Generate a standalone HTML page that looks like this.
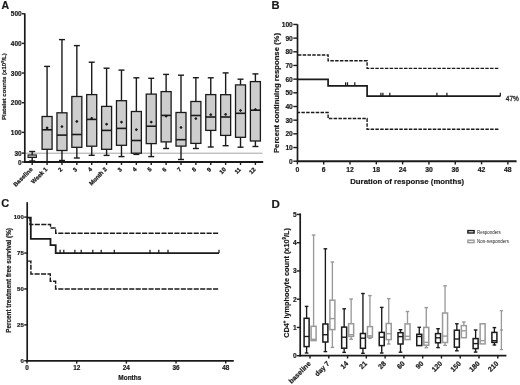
<!DOCTYPE html>
<html><head><meta charset="utf-8"><title>Figure</title>
<style>html,body{margin:0;padding:0;background:#fff;}svg{display:block;will-change:transform;}text{font-family:"Liberation Sans", sans-serif;}</style>
</head><body>
<svg width="520" height="385" viewBox="0 0 520 385" font-family='"Liberation Sans", sans-serif'>
<rect width="520" height="385" fill="#fff"/>
<text x="1.60" y="8.70" font-size="10.5" font-weight="bold" text-anchor="start" fill="#1a1a1a" stroke="#1a1a1a" stroke-width="0.2" >A</text>
<line x1="25.00" y1="153.20" x2="262.50" y2="153.20" stroke="#a4a4a4" stroke-width="1.0" />
<line x1="24.80" y1="13.40" x2="24.80" y2="162.80" stroke="#1a1a1a" stroke-width="1.7" />
<line x1="24.00" y1="162.00" x2="263.20" y2="162.00" stroke="#1a1a1a" stroke-width="1.8" />
<line x1="21.90" y1="162.00" x2="24.80" y2="162.00" stroke="#1a1a1a" stroke-width="1.4" />
<text x="21.70" y="164.70" font-size="6.5" font-weight="bold" text-anchor="end" fill="#1a1a1a" stroke="#1a1a1a" stroke-width="0.2" >0</text>
<line x1="21.90" y1="153.10" x2="24.80" y2="153.10" stroke="#1a1a1a" stroke-width="1.4" />
<text x="21.70" y="155.80" font-size="6.5" font-weight="bold" text-anchor="end" fill="#1a1a1a" stroke="#1a1a1a" stroke-width="0.2" >30</text>
<line x1="21.90" y1="132.35" x2="24.80" y2="132.35" stroke="#1a1a1a" stroke-width="1.4" />
<text x="21.70" y="135.05" font-size="6.5" font-weight="bold" text-anchor="end" fill="#1a1a1a" stroke="#1a1a1a" stroke-width="0.2" >100</text>
<line x1="21.90" y1="102.70" x2="24.80" y2="102.70" stroke="#1a1a1a" stroke-width="1.4" />
<text x="21.70" y="105.40" font-size="6.5" font-weight="bold" text-anchor="end" fill="#1a1a1a" stroke="#1a1a1a" stroke-width="0.2" >200</text>
<line x1="21.90" y1="73.05" x2="24.80" y2="73.05" stroke="#1a1a1a" stroke-width="1.4" />
<text x="21.70" y="75.75" font-size="6.5" font-weight="bold" text-anchor="end" fill="#1a1a1a" stroke="#1a1a1a" stroke-width="0.2" >300</text>
<line x1="21.90" y1="43.40" x2="24.80" y2="43.40" stroke="#1a1a1a" stroke-width="1.4" />
<text x="21.70" y="46.10" font-size="6.5" font-weight="bold" text-anchor="end" fill="#1a1a1a" stroke="#1a1a1a" stroke-width="0.2" >400</text>
<line x1="21.90" y1="13.75" x2="24.80" y2="13.75" stroke="#1a1a1a" stroke-width="1.4" />
<text x="21.70" y="16.45" font-size="6.5" font-weight="bold" text-anchor="end" fill="#1a1a1a" stroke="#1a1a1a" stroke-width="0.2" >500</text>
<text x="5.90" y="86.60" font-size="6.1" font-weight="bold" text-anchor="middle" fill="#1a1a1a" stroke="#1a1a1a" stroke-width="0.2" transform="rotate(-90 5.9 86.6)">Platelet counts (x10<tspan font-size="4" dy="-2.2">9</tspan><tspan dy="2.2">/L)</tspan></text>
<line x1="32.20" y1="151.50" x2="32.20" y2="154.90" stroke="#1a1a1a" stroke-width="1.4" />
<line x1="32.20" y1="157.50" x2="32.20" y2="161.00" stroke="#1a1a1a" stroke-width="1.4" />
<line x1="29.20" y1="151.50" x2="35.20" y2="151.50" stroke="#1a1a1a" stroke-width="1.4" />
<line x1="29.20" y1="161.00" x2="35.20" y2="161.00" stroke="#1a1a1a" stroke-width="1.4" />
<rect x="28.00" y="154.90" width="8.40" height="2.60" fill="#a0a0a0" stroke="#1a1a1a" stroke-width="1.0"/>
<line x1="32.20" y1="162.00" x2="32.20" y2="164.90" stroke="#1a1a1a" stroke-width="1.4" />
<text x="33.00" y="169.80" font-size="5.9" font-weight="bold" text-anchor="end" fill="#1a1a1a" stroke="#1a1a1a" stroke-width="0.26" transform="rotate(-45 33.00 169.80)">Baseline</text>
<line x1="47.08" y1="66.40" x2="47.08" y2="116.50" stroke="#1a1a1a" stroke-width="1.4" />
<line x1="47.08" y1="149.30" x2="47.08" y2="162.00" stroke="#1a1a1a" stroke-width="1.4" />
<line x1="44.08" y1="66.40" x2="50.08" y2="66.40" stroke="#1a1a1a" stroke-width="1.4" />
<line x1="44.08" y1="162.00" x2="50.08" y2="162.00" stroke="#1a1a1a" stroke-width="1.4" />
<rect x="42.08" y="116.50" width="10.00" height="32.80" fill="#cdcdcd" stroke="#1a1a1a" stroke-width="1.3"/>
<line x1="42.08" y1="129.80" x2="52.08" y2="129.80" stroke="#1a1a1a" stroke-width="1.6" />
<line x1="45.68" y1="127.90" x2="48.48" y2="127.90" stroke="#1a1a1a" stroke-width="0.8" />
<line x1="47.08" y1="126.50" x2="47.08" y2="129.30" stroke="#1a1a1a" stroke-width="0.8" />
<circle cx="47.08" cy="127.90" r="1.15" fill="#1a1a1a"/>
<line x1="47.08" y1="162.00" x2="47.08" y2="164.90" stroke="#1a1a1a" stroke-width="1.4" />
<text x="47.88" y="169.80" font-size="5.9" font-weight="bold" text-anchor="end" fill="#1a1a1a" stroke="#1a1a1a" stroke-width="0.26" transform="rotate(-45 47.88 169.80)">Week 1</text>
<line x1="61.96" y1="39.60" x2="61.96" y2="112.80" stroke="#1a1a1a" stroke-width="1.4" />
<line x1="61.96" y1="150.50" x2="61.96" y2="160.50" stroke="#1a1a1a" stroke-width="1.4" />
<line x1="58.96" y1="39.60" x2="64.96" y2="39.60" stroke="#1a1a1a" stroke-width="1.4" />
<line x1="58.96" y1="160.50" x2="64.96" y2="160.50" stroke="#1a1a1a" stroke-width="1.4" />
<rect x="56.96" y="112.80" width="10.00" height="37.70" fill="#cdcdcd" stroke="#1a1a1a" stroke-width="1.3"/>
<line x1="56.96" y1="135.10" x2="66.96" y2="135.10" stroke="#1a1a1a" stroke-width="1.6" />
<line x1="60.56" y1="126.60" x2="63.36" y2="126.60" stroke="#1a1a1a" stroke-width="0.8" />
<line x1="61.96" y1="125.20" x2="61.96" y2="128.00" stroke="#1a1a1a" stroke-width="0.8" />
<circle cx="61.96" cy="126.60" r="1.15" fill="#1a1a1a"/>
<line x1="61.96" y1="162.00" x2="61.96" y2="164.90" stroke="#1a1a1a" stroke-width="1.4" />
<text x="62.76" y="169.80" font-size="5.9" font-weight="bold" text-anchor="end" fill="#1a1a1a" stroke="#1a1a1a" stroke-width="0.26" transform="rotate(-45 62.76 169.80)">2</text>
<line x1="76.84" y1="45.60" x2="76.84" y2="96.50" stroke="#1a1a1a" stroke-width="1.4" />
<line x1="76.84" y1="147.30" x2="76.84" y2="158.00" stroke="#1a1a1a" stroke-width="1.4" />
<line x1="73.84" y1="45.60" x2="79.84" y2="45.60" stroke="#1a1a1a" stroke-width="1.4" />
<line x1="73.84" y1="158.00" x2="79.84" y2="158.00" stroke="#1a1a1a" stroke-width="1.4" />
<rect x="71.84" y="96.50" width="10.00" height="50.80" fill="#cdcdcd" stroke="#1a1a1a" stroke-width="1.3"/>
<line x1="71.84" y1="134.50" x2="81.84" y2="134.50" stroke="#1a1a1a" stroke-width="1.6" />
<line x1="75.44" y1="121.50" x2="78.24" y2="121.50" stroke="#1a1a1a" stroke-width="0.8" />
<line x1="76.84" y1="120.10" x2="76.84" y2="122.90" stroke="#1a1a1a" stroke-width="0.8" />
<circle cx="76.84" cy="121.50" r="1.15" fill="#1a1a1a"/>
<line x1="76.84" y1="162.00" x2="76.84" y2="164.90" stroke="#1a1a1a" stroke-width="1.4" />
<text x="77.64" y="169.80" font-size="5.9" font-weight="bold" text-anchor="end" fill="#1a1a1a" stroke="#1a1a1a" stroke-width="0.26" transform="rotate(-45 77.64 169.80)">3</text>
<line x1="91.72" y1="62.20" x2="91.72" y2="94.60" stroke="#1a1a1a" stroke-width="1.4" />
<line x1="91.72" y1="146.20" x2="91.72" y2="155.30" stroke="#1a1a1a" stroke-width="1.4" />
<line x1="88.72" y1="62.20" x2="94.72" y2="62.20" stroke="#1a1a1a" stroke-width="1.4" />
<line x1="88.72" y1="155.30" x2="94.72" y2="155.30" stroke="#1a1a1a" stroke-width="1.4" />
<rect x="86.72" y="94.60" width="10.00" height="51.60" fill="#cdcdcd" stroke="#1a1a1a" stroke-width="1.3"/>
<line x1="86.72" y1="119.40" x2="96.72" y2="119.40" stroke="#1a1a1a" stroke-width="1.6" />
<line x1="90.32" y1="118.30" x2="93.12" y2="118.30" stroke="#1a1a1a" stroke-width="0.8" />
<line x1="91.72" y1="116.90" x2="91.72" y2="119.70" stroke="#1a1a1a" stroke-width="0.8" />
<circle cx="91.72" cy="118.30" r="1.15" fill="#1a1a1a"/>
<line x1="91.72" y1="162.00" x2="91.72" y2="164.90" stroke="#1a1a1a" stroke-width="1.4" />
<text x="92.52" y="169.80" font-size="5.9" font-weight="bold" text-anchor="end" fill="#1a1a1a" stroke="#1a1a1a" stroke-width="0.26" transform="rotate(-45 92.52 169.80)">4</text>
<line x1="106.60" y1="68.20" x2="106.60" y2="106.40" stroke="#1a1a1a" stroke-width="1.4" />
<line x1="106.60" y1="149.30" x2="106.60" y2="155.40" stroke="#1a1a1a" stroke-width="1.4" />
<line x1="103.60" y1="68.20" x2="109.60" y2="68.20" stroke="#1a1a1a" stroke-width="1.4" />
<line x1="103.60" y1="155.40" x2="109.60" y2="155.40" stroke="#1a1a1a" stroke-width="1.4" />
<rect x="101.60" y="106.40" width="10.00" height="42.90" fill="#cdcdcd" stroke="#1a1a1a" stroke-width="1.3"/>
<line x1="101.60" y1="130.40" x2="111.60" y2="130.40" stroke="#1a1a1a" stroke-width="1.6" />
<line x1="105.20" y1="124.20" x2="108.00" y2="124.20" stroke="#1a1a1a" stroke-width="0.8" />
<line x1="106.60" y1="122.80" x2="106.60" y2="125.60" stroke="#1a1a1a" stroke-width="0.8" />
<circle cx="106.60" cy="124.20" r="1.15" fill="#1a1a1a"/>
<line x1="106.60" y1="162.00" x2="106.60" y2="164.90" stroke="#1a1a1a" stroke-width="1.4" />
<text x="107.40" y="169.80" font-size="5.9" font-weight="bold" text-anchor="end" fill="#1a1a1a" stroke="#1a1a1a" stroke-width="0.26" transform="rotate(-45 107.40 169.80)">Month 2</text>
<line x1="121.48" y1="70.10" x2="121.48" y2="100.70" stroke="#1a1a1a" stroke-width="1.4" />
<line x1="121.48" y1="145.30" x2="121.48" y2="156.60" stroke="#1a1a1a" stroke-width="1.4" />
<line x1="118.48" y1="70.10" x2="124.48" y2="70.10" stroke="#1a1a1a" stroke-width="1.4" />
<line x1="118.48" y1="156.60" x2="124.48" y2="156.60" stroke="#1a1a1a" stroke-width="1.4" />
<rect x="116.48" y="100.70" width="10.00" height="44.60" fill="#cdcdcd" stroke="#1a1a1a" stroke-width="1.3"/>
<line x1="116.48" y1="128.40" x2="126.48" y2="128.40" stroke="#1a1a1a" stroke-width="1.6" />
<line x1="120.08" y1="122.10" x2="122.88" y2="122.10" stroke="#1a1a1a" stroke-width="0.8" />
<line x1="121.48" y1="120.70" x2="121.48" y2="123.50" stroke="#1a1a1a" stroke-width="0.8" />
<circle cx="121.48" cy="122.10" r="1.15" fill="#1a1a1a"/>
<line x1="121.48" y1="162.00" x2="121.48" y2="164.90" stroke="#1a1a1a" stroke-width="1.4" />
<text x="122.28" y="169.80" font-size="5.9" font-weight="bold" text-anchor="end" fill="#1a1a1a" stroke="#1a1a1a" stroke-width="0.26" transform="rotate(-45 122.28 169.80)">3</text>
<line x1="136.36" y1="77.80" x2="136.36" y2="111.50" stroke="#1a1a1a" stroke-width="1.4" />
<line x1="136.36" y1="153.20" x2="136.36" y2="154.40" stroke="#1a1a1a" stroke-width="1.4" />
<line x1="133.36" y1="77.80" x2="139.36" y2="77.80" stroke="#1a1a1a" stroke-width="1.4" />
<line x1="133.36" y1="154.40" x2="139.36" y2="154.40" stroke="#1a1a1a" stroke-width="1.4" />
<rect x="131.36" y="111.50" width="10.00" height="41.70" fill="#cdcdcd" stroke="#1a1a1a" stroke-width="1.3"/>
<line x1="131.36" y1="140.50" x2="141.36" y2="140.50" stroke="#1a1a1a" stroke-width="1.6" />
<line x1="134.96" y1="129.70" x2="137.76" y2="129.70" stroke="#1a1a1a" stroke-width="0.8" />
<line x1="136.36" y1="128.30" x2="136.36" y2="131.10" stroke="#1a1a1a" stroke-width="0.8" />
<circle cx="136.36" cy="129.70" r="1.15" fill="#1a1a1a"/>
<line x1="136.36" y1="162.00" x2="136.36" y2="164.90" stroke="#1a1a1a" stroke-width="1.4" />
<text x="137.16" y="169.80" font-size="5.9" font-weight="bold" text-anchor="end" fill="#1a1a1a" stroke="#1a1a1a" stroke-width="0.26" transform="rotate(-45 137.16 169.80)">4</text>
<line x1="151.24" y1="78.30" x2="151.24" y2="94.10" stroke="#1a1a1a" stroke-width="1.4" />
<line x1="151.24" y1="143.60" x2="151.24" y2="156.60" stroke="#1a1a1a" stroke-width="1.4" />
<line x1="148.24" y1="78.30" x2="154.24" y2="78.30" stroke="#1a1a1a" stroke-width="1.4" />
<line x1="148.24" y1="156.60" x2="154.24" y2="156.60" stroke="#1a1a1a" stroke-width="1.4" />
<rect x="146.24" y="94.10" width="10.00" height="49.50" fill="#cdcdcd" stroke="#1a1a1a" stroke-width="1.3"/>
<line x1="146.24" y1="126.20" x2="156.24" y2="126.20" stroke="#1a1a1a" stroke-width="1.6" />
<line x1="149.84" y1="122.10" x2="152.64" y2="122.10" stroke="#1a1a1a" stroke-width="0.8" />
<line x1="151.24" y1="120.70" x2="151.24" y2="123.50" stroke="#1a1a1a" stroke-width="0.8" />
<circle cx="151.24" cy="122.10" r="1.15" fill="#1a1a1a"/>
<line x1="151.24" y1="162.00" x2="151.24" y2="164.90" stroke="#1a1a1a" stroke-width="1.4" />
<text x="152.04" y="169.80" font-size="5.9" font-weight="bold" text-anchor="end" fill="#1a1a1a" stroke="#1a1a1a" stroke-width="0.26" transform="rotate(-45 152.04 169.80)">5</text>
<line x1="166.12" y1="74.40" x2="166.12" y2="91.60" stroke="#1a1a1a" stroke-width="1.4" />
<line x1="166.12" y1="141.90" x2="166.12" y2="148.50" stroke="#1a1a1a" stroke-width="1.4" />
<line x1="163.12" y1="74.40" x2="169.12" y2="74.40" stroke="#1a1a1a" stroke-width="1.4" />
<line x1="163.12" y1="148.50" x2="169.12" y2="148.50" stroke="#1a1a1a" stroke-width="1.4" />
<rect x="161.12" y="91.60" width="10.00" height="50.30" fill="#cdcdcd" stroke="#1a1a1a" stroke-width="1.3"/>
<line x1="161.12" y1="115.40" x2="171.12" y2="115.40" stroke="#1a1a1a" stroke-width="1.6" />
<line x1="164.72" y1="116.20" x2="167.52" y2="116.20" stroke="#1a1a1a" stroke-width="0.8" />
<line x1="166.12" y1="114.80" x2="166.12" y2="117.60" stroke="#1a1a1a" stroke-width="0.8" />
<circle cx="166.12" cy="116.20" r="1.15" fill="#1a1a1a"/>
<line x1="166.12" y1="162.00" x2="166.12" y2="164.90" stroke="#1a1a1a" stroke-width="1.4" />
<text x="166.92" y="169.80" font-size="5.9" font-weight="bold" text-anchor="end" fill="#1a1a1a" stroke="#1a1a1a" stroke-width="0.26" transform="rotate(-45 166.92 169.80)">6</text>
<line x1="181.00" y1="75.20" x2="181.00" y2="112.50" stroke="#1a1a1a" stroke-width="1.4" />
<line x1="181.00" y1="146.10" x2="181.00" y2="159.50" stroke="#1a1a1a" stroke-width="1.4" />
<line x1="178.00" y1="75.20" x2="184.00" y2="75.20" stroke="#1a1a1a" stroke-width="1.4" />
<line x1="178.00" y1="159.50" x2="184.00" y2="159.50" stroke="#1a1a1a" stroke-width="1.4" />
<rect x="176.00" y="112.50" width="10.00" height="33.60" fill="#cdcdcd" stroke="#1a1a1a" stroke-width="1.3"/>
<line x1="176.00" y1="139.70" x2="186.00" y2="139.70" stroke="#1a1a1a" stroke-width="1.6" />
<line x1="179.60" y1="127.50" x2="182.40" y2="127.50" stroke="#1a1a1a" stroke-width="0.8" />
<line x1="181.00" y1="126.10" x2="181.00" y2="128.90" stroke="#1a1a1a" stroke-width="0.8" />
<circle cx="181.00" cy="127.50" r="1.15" fill="#1a1a1a"/>
<line x1="181.00" y1="162.00" x2="181.00" y2="164.90" stroke="#1a1a1a" stroke-width="1.4" />
<text x="181.80" y="169.80" font-size="5.9" font-weight="bold" text-anchor="end" fill="#1a1a1a" stroke="#1a1a1a" stroke-width="0.26" transform="rotate(-45 181.80 169.80)">7</text>
<line x1="195.88" y1="77.70" x2="195.88" y2="101.50" stroke="#1a1a1a" stroke-width="1.4" />
<line x1="195.88" y1="143.40" x2="195.88" y2="148.50" stroke="#1a1a1a" stroke-width="1.4" />
<line x1="192.88" y1="77.70" x2="198.88" y2="77.70" stroke="#1a1a1a" stroke-width="1.4" />
<line x1="192.88" y1="148.50" x2="198.88" y2="148.50" stroke="#1a1a1a" stroke-width="1.4" />
<rect x="190.88" y="101.50" width="10.00" height="41.90" fill="#cdcdcd" stroke="#1a1a1a" stroke-width="1.3"/>
<line x1="190.88" y1="115.50" x2="200.88" y2="115.50" stroke="#1a1a1a" stroke-width="1.6" />
<line x1="194.48" y1="118.60" x2="197.28" y2="118.60" stroke="#1a1a1a" stroke-width="0.8" />
<line x1="195.88" y1="117.20" x2="195.88" y2="120.00" stroke="#1a1a1a" stroke-width="0.8" />
<circle cx="195.88" cy="118.60" r="1.15" fill="#1a1a1a"/>
<line x1="195.88" y1="162.00" x2="195.88" y2="164.90" stroke="#1a1a1a" stroke-width="1.4" />
<text x="196.68" y="169.80" font-size="5.9" font-weight="bold" text-anchor="end" fill="#1a1a1a" stroke="#1a1a1a" stroke-width="0.26" transform="rotate(-45 196.68 169.80)">8</text>
<line x1="210.76" y1="77.80" x2="210.76" y2="94.60" stroke="#1a1a1a" stroke-width="1.4" />
<line x1="210.76" y1="130.40" x2="210.76" y2="147.00" stroke="#1a1a1a" stroke-width="1.4" />
<line x1="207.76" y1="77.80" x2="213.76" y2="77.80" stroke="#1a1a1a" stroke-width="1.4" />
<line x1="207.76" y1="147.00" x2="213.76" y2="147.00" stroke="#1a1a1a" stroke-width="1.4" />
<rect x="205.76" y="94.60" width="10.00" height="35.80" fill="#cdcdcd" stroke="#1a1a1a" stroke-width="1.3"/>
<line x1="205.76" y1="117.00" x2="215.76" y2="117.00" stroke="#1a1a1a" stroke-width="1.6" />
<line x1="209.36" y1="114.70" x2="212.16" y2="114.70" stroke="#1a1a1a" stroke-width="0.8" />
<line x1="210.76" y1="113.30" x2="210.76" y2="116.10" stroke="#1a1a1a" stroke-width="0.8" />
<circle cx="210.76" cy="114.70" r="1.15" fill="#1a1a1a"/>
<line x1="210.76" y1="162.00" x2="210.76" y2="164.90" stroke="#1a1a1a" stroke-width="1.4" />
<text x="211.56" y="169.80" font-size="5.9" font-weight="bold" text-anchor="end" fill="#1a1a1a" stroke="#1a1a1a" stroke-width="0.26" transform="rotate(-45 211.56 169.80)">9</text>
<line x1="225.64" y1="72.90" x2="225.64" y2="94.70" stroke="#1a1a1a" stroke-width="1.4" />
<line x1="225.64" y1="135.40" x2="225.64" y2="145.70" stroke="#1a1a1a" stroke-width="1.4" />
<line x1="222.64" y1="72.90" x2="228.64" y2="72.90" stroke="#1a1a1a" stroke-width="1.4" />
<line x1="222.64" y1="145.70" x2="228.64" y2="145.70" stroke="#1a1a1a" stroke-width="1.4" />
<rect x="220.64" y="94.70" width="10.00" height="40.70" fill="#cdcdcd" stroke="#1a1a1a" stroke-width="1.3"/>
<line x1="220.64" y1="117.00" x2="230.64" y2="117.00" stroke="#1a1a1a" stroke-width="1.6" />
<line x1="224.24" y1="114.40" x2="227.04" y2="114.40" stroke="#1a1a1a" stroke-width="0.8" />
<line x1="225.64" y1="113.00" x2="225.64" y2="115.80" stroke="#1a1a1a" stroke-width="0.8" />
<circle cx="225.64" cy="114.40" r="1.15" fill="#1a1a1a"/>
<line x1="225.64" y1="162.00" x2="225.64" y2="164.90" stroke="#1a1a1a" stroke-width="1.4" />
<text x="226.44" y="169.80" font-size="5.9" font-weight="bold" text-anchor="end" fill="#1a1a1a" stroke="#1a1a1a" stroke-width="0.26" transform="rotate(-45 226.44 169.80)">10</text>
<line x1="240.52" y1="79.20" x2="240.52" y2="84.90" stroke="#1a1a1a" stroke-width="1.4" />
<line x1="240.52" y1="137.30" x2="240.52" y2="147.20" stroke="#1a1a1a" stroke-width="1.4" />
<line x1="237.52" y1="79.20" x2="243.52" y2="79.20" stroke="#1a1a1a" stroke-width="1.4" />
<line x1="237.52" y1="147.20" x2="243.52" y2="147.20" stroke="#1a1a1a" stroke-width="1.4" />
<rect x="235.52" y="84.90" width="10.00" height="52.40" fill="#cdcdcd" stroke="#1a1a1a" stroke-width="1.3"/>
<line x1="235.52" y1="113.30" x2="245.52" y2="113.30" stroke="#1a1a1a" stroke-width="1.6" />
<line x1="239.12" y1="110.50" x2="241.92" y2="110.50" stroke="#1a1a1a" stroke-width="0.8" />
<line x1="240.52" y1="109.10" x2="240.52" y2="111.90" stroke="#1a1a1a" stroke-width="0.8" />
<circle cx="240.52" cy="110.50" r="1.15" fill="#1a1a1a"/>
<line x1="240.52" y1="162.00" x2="240.52" y2="164.90" stroke="#1a1a1a" stroke-width="1.4" />
<text x="241.32" y="169.80" font-size="5.9" font-weight="bold" text-anchor="end" fill="#1a1a1a" stroke="#1a1a1a" stroke-width="0.26" transform="rotate(-45 241.32 169.80)">11</text>
<line x1="255.40" y1="73.90" x2="255.40" y2="81.60" stroke="#1a1a1a" stroke-width="1.4" />
<line x1="255.40" y1="141.00" x2="255.40" y2="146.50" stroke="#1a1a1a" stroke-width="1.4" />
<line x1="252.40" y1="73.90" x2="258.40" y2="73.90" stroke="#1a1a1a" stroke-width="1.4" />
<line x1="252.40" y1="146.50" x2="258.40" y2="146.50" stroke="#1a1a1a" stroke-width="1.4" />
<rect x="250.40" y="81.60" width="10.00" height="59.40" fill="#cdcdcd" stroke="#1a1a1a" stroke-width="1.3"/>
<line x1="250.40" y1="110.20" x2="260.40" y2="110.20" stroke="#1a1a1a" stroke-width="1.6" />
<line x1="254.00" y1="109.50" x2="256.80" y2="109.50" stroke="#1a1a1a" stroke-width="0.8" />
<line x1="255.40" y1="108.10" x2="255.40" y2="110.90" stroke="#1a1a1a" stroke-width="0.8" />
<circle cx="255.40" cy="109.50" r="1.15" fill="#1a1a1a"/>
<line x1="255.40" y1="162.00" x2="255.40" y2="164.90" stroke="#1a1a1a" stroke-width="1.4" />
<text x="256.20" y="169.80" font-size="5.9" font-weight="bold" text-anchor="end" fill="#1a1a1a" stroke="#1a1a1a" stroke-width="0.26" transform="rotate(-45 256.20 169.80)">12</text>
<text x="271.50" y="9.10" font-size="11.2" font-weight="bold" text-anchor="start" fill="#1a1a1a" stroke="#1a1a1a" stroke-width="0.2" >B</text>
<line x1="297.50" y1="24.30" x2="297.50" y2="162.00" stroke="#1a1a1a" stroke-width="1.7" />
<line x1="296.70" y1="161.20" x2="516.60" y2="161.20" stroke="#1a1a1a" stroke-width="1.9" />
<line x1="293.30" y1="161.20" x2="297.50" y2="161.20" stroke="#1a1a1a" stroke-width="1.4" />
<text x="292.80" y="163.65" font-size="6.65" font-weight="bold" text-anchor="end" fill="#1a1a1a" stroke="#1a1a1a" stroke-width="0.2" >0</text>
<line x1="293.30" y1="147.52" x2="297.50" y2="147.52" stroke="#1a1a1a" stroke-width="1.4" />
<text x="292.80" y="149.97" font-size="6.65" font-weight="bold" text-anchor="end" fill="#1a1a1a" stroke="#1a1a1a" stroke-width="0.2" >10</text>
<line x1="293.30" y1="133.85" x2="297.50" y2="133.85" stroke="#1a1a1a" stroke-width="1.4" />
<text x="292.80" y="136.30" font-size="6.65" font-weight="bold" text-anchor="end" fill="#1a1a1a" stroke="#1a1a1a" stroke-width="0.2" >20</text>
<line x1="293.30" y1="120.17" x2="297.50" y2="120.17" stroke="#1a1a1a" stroke-width="1.4" />
<text x="292.80" y="122.62" font-size="6.65" font-weight="bold" text-anchor="end" fill="#1a1a1a" stroke="#1a1a1a" stroke-width="0.2" >30</text>
<line x1="293.30" y1="106.50" x2="297.50" y2="106.50" stroke="#1a1a1a" stroke-width="1.4" />
<text x="292.80" y="108.95" font-size="6.65" font-weight="bold" text-anchor="end" fill="#1a1a1a" stroke="#1a1a1a" stroke-width="0.2" >40</text>
<line x1="293.30" y1="92.82" x2="297.50" y2="92.82" stroke="#1a1a1a" stroke-width="1.4" />
<text x="292.80" y="95.27" font-size="6.65" font-weight="bold" text-anchor="end" fill="#1a1a1a" stroke="#1a1a1a" stroke-width="0.2" >50</text>
<line x1="293.30" y1="79.15" x2="297.50" y2="79.15" stroke="#1a1a1a" stroke-width="1.4" />
<text x="292.80" y="81.60" font-size="6.65" font-weight="bold" text-anchor="end" fill="#1a1a1a" stroke="#1a1a1a" stroke-width="0.2" >60</text>
<line x1="293.30" y1="65.47" x2="297.50" y2="65.47" stroke="#1a1a1a" stroke-width="1.4" />
<text x="292.80" y="67.92" font-size="6.65" font-weight="bold" text-anchor="end" fill="#1a1a1a" stroke="#1a1a1a" stroke-width="0.2" >70</text>
<line x1="293.30" y1="51.80" x2="297.50" y2="51.80" stroke="#1a1a1a" stroke-width="1.4" />
<text x="292.80" y="54.25" font-size="6.65" font-weight="bold" text-anchor="end" fill="#1a1a1a" stroke="#1a1a1a" stroke-width="0.2" >80</text>
<line x1="293.30" y1="38.12" x2="297.50" y2="38.12" stroke="#1a1a1a" stroke-width="1.4" />
<text x="292.80" y="40.58" font-size="6.65" font-weight="bold" text-anchor="end" fill="#1a1a1a" stroke="#1a1a1a" stroke-width="0.2" >90</text>
<line x1="293.30" y1="24.45" x2="297.50" y2="24.45" stroke="#1a1a1a" stroke-width="1.4" />
<text x="292.80" y="26.90" font-size="6.65" font-weight="bold" text-anchor="end" fill="#1a1a1a" stroke="#1a1a1a" stroke-width="0.2" >100</text>
<line x1="297.40" y1="161.20" x2="297.40" y2="164.40" stroke="#1a1a1a" stroke-width="1.4" />
<text x="297.40" y="172.00" font-size="6.8" font-weight="bold" text-anchor="middle" fill="#1a1a1a" stroke="#1a1a1a" stroke-width="0.2" >0</text>
<line x1="323.71" y1="161.20" x2="323.71" y2="164.40" stroke="#1a1a1a" stroke-width="1.4" />
<text x="323.71" y="172.00" font-size="6.8" font-weight="bold" text-anchor="middle" fill="#1a1a1a" stroke="#1a1a1a" stroke-width="0.2" >6</text>
<line x1="350.02" y1="161.20" x2="350.02" y2="164.40" stroke="#1a1a1a" stroke-width="1.4" />
<text x="350.02" y="172.00" font-size="6.8" font-weight="bold" text-anchor="middle" fill="#1a1a1a" stroke="#1a1a1a" stroke-width="0.2" >12</text>
<line x1="376.33" y1="161.20" x2="376.33" y2="164.40" stroke="#1a1a1a" stroke-width="1.4" />
<text x="376.33" y="172.00" font-size="6.8" font-weight="bold" text-anchor="middle" fill="#1a1a1a" stroke="#1a1a1a" stroke-width="0.2" >18</text>
<line x1="402.64" y1="161.20" x2="402.64" y2="164.40" stroke="#1a1a1a" stroke-width="1.4" />
<text x="402.64" y="172.00" font-size="6.8" font-weight="bold" text-anchor="middle" fill="#1a1a1a" stroke="#1a1a1a" stroke-width="0.2" >24</text>
<line x1="428.95" y1="161.20" x2="428.95" y2="164.40" stroke="#1a1a1a" stroke-width="1.4" />
<text x="428.95" y="172.00" font-size="6.8" font-weight="bold" text-anchor="middle" fill="#1a1a1a" stroke="#1a1a1a" stroke-width="0.2" >30</text>
<line x1="455.26" y1="161.20" x2="455.26" y2="164.40" stroke="#1a1a1a" stroke-width="1.4" />
<text x="455.26" y="172.00" font-size="6.8" font-weight="bold" text-anchor="middle" fill="#1a1a1a" stroke="#1a1a1a" stroke-width="0.2" >36</text>
<line x1="481.57" y1="161.20" x2="481.57" y2="164.40" stroke="#1a1a1a" stroke-width="1.4" />
<text x="481.57" y="172.00" font-size="6.8" font-weight="bold" text-anchor="middle" fill="#1a1a1a" stroke="#1a1a1a" stroke-width="0.2" >42</text>
<line x1="507.88" y1="161.20" x2="507.88" y2="164.40" stroke="#1a1a1a" stroke-width="1.4" />
<text x="507.88" y="172.00" font-size="6.8" font-weight="bold" text-anchor="middle" fill="#1a1a1a" stroke="#1a1a1a" stroke-width="0.2" >48</text>
<text x="407.20" y="183.80" font-size="7.8" font-weight="bold" text-anchor="middle" fill="#1a1a1a" stroke="#1a1a1a" stroke-width="0.2" >Duration of response (months)</text>
<text x="278.90" y="93.00" font-size="7.7" font-weight="bold" text-anchor="middle" fill="#1a1a1a" stroke="#1a1a1a" stroke-width="0.2" transform="rotate(-90 278.9 93.0)">Percent continuing response (%)</text>
<polyline points="297.50,55.00 328.10,55.00 328.10,60.80 367.10,60.80 367.10,68.40 499.00,68.40" fill="none" stroke="#1a1a1a" stroke-width="1.4" stroke-dasharray="3.5,1.28" stroke-dashoffset="-0.4"/>
<polyline points="297.50,112.50 328.10,112.50 328.10,118.50 367.10,118.50 367.10,129.30 499.00,129.30" fill="none" stroke="#1a1a1a" stroke-width="1.4" stroke-dasharray="3.5,1.28" stroke-dashoffset="0.9"/>
<polyline points="297.50,79.30 328.10,79.30 328.10,85.90 367.10,85.90 367.10,96.20 500.30,96.20" fill="none" stroke="#1a1a1a" stroke-width="1.7" />
<line x1="345.60" y1="82.30" x2="345.60" y2="85.90" stroke="#1a1a1a" stroke-width="1.25" />
<line x1="347.50" y1="82.30" x2="347.50" y2="85.90" stroke="#1a1a1a" stroke-width="1.25" />
<line x1="354.80" y1="82.30" x2="354.80" y2="85.90" stroke="#1a1a1a" stroke-width="1.25" />
<line x1="380.90" y1="92.70" x2="380.90" y2="96.20" stroke="#1a1a1a" stroke-width="1.25" />
<line x1="382.90" y1="92.70" x2="382.90" y2="96.20" stroke="#1a1a1a" stroke-width="1.25" />
<line x1="389.80" y1="92.70" x2="389.80" y2="96.20" stroke="#1a1a1a" stroke-width="1.25" />
<line x1="436.90" y1="92.70" x2="436.90" y2="96.20" stroke="#1a1a1a" stroke-width="1.25" />
<line x1="446.90" y1="92.70" x2="446.90" y2="96.20" stroke="#1a1a1a" stroke-width="1.25" />
<line x1="500.30" y1="92.70" x2="500.30" y2="96.20" stroke="#1a1a1a" stroke-width="1.25" />
<text x="505.80" y="100.90" font-size="6.5" font-weight="normal" text-anchor="start" fill="#222" stroke="#222" stroke-width="0.28" >47%</text>
<text x="1.30" y="207.30" font-size="11" font-weight="bold" text-anchor="start" fill="#1a1a1a" stroke="#1a1a1a" stroke-width="0.2" >C</text>
<line x1="27.20" y1="202.20" x2="27.20" y2="361.60" stroke="#1a1a1a" stroke-width="1.7" />
<line x1="26.40" y1="360.80" x2="233.80" y2="360.80" stroke="#1a1a1a" stroke-width="1.8" />
<line x1="24.20" y1="360.80" x2="27.20" y2="360.80" stroke="#1a1a1a" stroke-width="1.4" />
<text x="23.80" y="363.00" font-size="6.0" font-weight="bold" text-anchor="end" fill="#1a1a1a" stroke="#1a1a1a" stroke-width="0.2" >0</text>
<line x1="24.20" y1="324.88" x2="27.20" y2="324.88" stroke="#1a1a1a" stroke-width="1.4" />
<text x="23.80" y="327.07" font-size="6.0" font-weight="bold" text-anchor="end" fill="#1a1a1a" stroke="#1a1a1a" stroke-width="0.2" >25</text>
<line x1="24.20" y1="288.95" x2="27.20" y2="288.95" stroke="#1a1a1a" stroke-width="1.4" />
<text x="23.80" y="291.15" font-size="6.0" font-weight="bold" text-anchor="end" fill="#1a1a1a" stroke="#1a1a1a" stroke-width="0.2" >50</text>
<line x1="24.20" y1="253.03" x2="27.20" y2="253.03" stroke="#1a1a1a" stroke-width="1.4" />
<text x="23.80" y="255.22" font-size="6.0" font-weight="bold" text-anchor="end" fill="#1a1a1a" stroke="#1a1a1a" stroke-width="0.2" >75</text>
<line x1="24.20" y1="217.10" x2="27.20" y2="217.10" stroke="#1a1a1a" stroke-width="1.4" />
<text x="23.80" y="219.30" font-size="6.0" font-weight="bold" text-anchor="end" fill="#1a1a1a" stroke="#1a1a1a" stroke-width="0.2" >100</text>
<line x1="27.00" y1="360.80" x2="27.00" y2="363.60" stroke="#1a1a1a" stroke-width="1.4" />
<text x="27.00" y="370.40" font-size="6.4" font-weight="bold" text-anchor="middle" fill="#1a1a1a" stroke="#1a1a1a" stroke-width="0.2" >0</text>
<line x1="76.68" y1="360.80" x2="76.68" y2="363.60" stroke="#1a1a1a" stroke-width="1.4" />
<text x="76.68" y="370.40" font-size="6.4" font-weight="bold" text-anchor="middle" fill="#1a1a1a" stroke="#1a1a1a" stroke-width="0.2" >12</text>
<line x1="126.36" y1="360.80" x2="126.36" y2="363.60" stroke="#1a1a1a" stroke-width="1.4" />
<text x="126.36" y="370.40" font-size="6.4" font-weight="bold" text-anchor="middle" fill="#1a1a1a" stroke="#1a1a1a" stroke-width="0.2" >24</text>
<line x1="176.04" y1="360.80" x2="176.04" y2="363.60" stroke="#1a1a1a" stroke-width="1.4" />
<text x="176.04" y="370.40" font-size="6.4" font-weight="bold" text-anchor="middle" fill="#1a1a1a" stroke="#1a1a1a" stroke-width="0.2" >36</text>
<line x1="225.72" y1="360.80" x2="225.72" y2="363.60" stroke="#1a1a1a" stroke-width="1.4" />
<text x="225.72" y="370.40" font-size="6.4" font-weight="bold" text-anchor="middle" fill="#1a1a1a" stroke="#1a1a1a" stroke-width="0.2" >48</text>
<text x="129.80" y="379.60" font-size="6.45" font-weight="bold" text-anchor="middle" fill="#1a1a1a" stroke="#1a1a1a" stroke-width="0.2" >Months</text>
<text x="10.90" y="280.40" font-size="6.35" font-weight="bold" text-anchor="middle" fill="#1a1a1a" stroke="#1a1a1a" stroke-width="0.2" transform="rotate(-90 10.9 280.4)">Percent treatment free survival (%)</text>
<polyline points="27.20,217.60 30.80,217.60 30.80,238.90 50.50,238.90 50.50,245.10 55.70,245.10 55.70,253.10 219.00,253.10" fill="none" stroke="#1a1a1a" stroke-width="1.8" />
<line x1="60.10" y1="249.80" x2="60.10" y2="253.10" stroke="#1a1a1a" stroke-width="1.25" />
<line x1="63.80" y1="249.80" x2="63.80" y2="253.10" stroke="#1a1a1a" stroke-width="1.25" />
<line x1="74.90" y1="249.80" x2="74.90" y2="253.10" stroke="#1a1a1a" stroke-width="1.25" />
<line x1="81.20" y1="249.80" x2="81.20" y2="253.10" stroke="#1a1a1a" stroke-width="1.25" />
<line x1="92.80" y1="249.80" x2="92.80" y2="253.10" stroke="#1a1a1a" stroke-width="1.25" />
<line x1="101.20" y1="249.80" x2="101.20" y2="253.10" stroke="#1a1a1a" stroke-width="1.25" />
<line x1="114.30" y1="249.80" x2="114.30" y2="253.10" stroke="#1a1a1a" stroke-width="1.25" />
<line x1="150.00" y1="249.80" x2="150.00" y2="253.10" stroke="#1a1a1a" stroke-width="1.25" />
<line x1="158.80" y1="249.80" x2="158.80" y2="253.10" stroke="#1a1a1a" stroke-width="1.25" />
<line x1="168.00" y1="249.80" x2="168.00" y2="253.10" stroke="#1a1a1a" stroke-width="1.25" />
<line x1="219.00" y1="249.80" x2="219.00" y2="253.10" stroke="#1a1a1a" stroke-width="1.25" />
<polyline points="27.20,217.60 30.00,217.60 30.00,224.40 50.50,224.40 50.50,228.00 55.70,228.00 55.70,233.20 219.00,233.20" fill="none" stroke="#1a1a1a" stroke-width="1.45" stroke-dasharray="5.1,1.35" stroke-dashoffset="-1.5"/>
<polyline points="27.20,261.10 30.90,261.10 30.90,274.00 50.30,274.00 50.30,281.30 55.60,281.30 55.60,289.00 219.00,289.00" fill="none" stroke="#1a1a1a" stroke-width="1.45" stroke-dasharray="5.1,1.35" stroke-dashoffset="-0.9"/>
<text x="271.40" y="207.60" font-size="11.5" font-weight="bold" text-anchor="start" fill="#1a1a1a" stroke="#1a1a1a" stroke-width="0.2" >D</text>
<line x1="300.20" y1="213.40" x2="300.20" y2="356.50" stroke="#1a1a1a" stroke-width="1.7" />
<line x1="299.40" y1="355.70" x2="506.40" y2="355.70" stroke="#1a1a1a" stroke-width="1.8" />
<line x1="296.80" y1="355.70" x2="300.20" y2="355.70" stroke="#1a1a1a" stroke-width="1.4" />
<text x="296.60" y="358.00" font-size="6.6" font-weight="bold" text-anchor="end" fill="#1a1a1a" stroke="#1a1a1a" stroke-width="0.2" >0</text>
<line x1="296.80" y1="327.45" x2="300.20" y2="327.45" stroke="#1a1a1a" stroke-width="1.4" />
<text x="296.60" y="329.75" font-size="6.6" font-weight="bold" text-anchor="end" fill="#1a1a1a" stroke="#1a1a1a" stroke-width="0.2" >1</text>
<line x1="296.80" y1="299.20" x2="300.20" y2="299.20" stroke="#1a1a1a" stroke-width="1.4" />
<text x="296.60" y="301.50" font-size="6.6" font-weight="bold" text-anchor="end" fill="#1a1a1a" stroke="#1a1a1a" stroke-width="0.2" >2</text>
<line x1="296.80" y1="270.95" x2="300.20" y2="270.95" stroke="#1a1a1a" stroke-width="1.4" />
<text x="296.60" y="273.25" font-size="6.6" font-weight="bold" text-anchor="end" fill="#1a1a1a" stroke="#1a1a1a" stroke-width="0.2" >3</text>
<line x1="296.80" y1="242.70" x2="300.20" y2="242.70" stroke="#1a1a1a" stroke-width="1.4" />
<text x="296.60" y="245.00" font-size="6.6" font-weight="bold" text-anchor="end" fill="#1a1a1a" stroke="#1a1a1a" stroke-width="0.2" >4</text>
<line x1="296.80" y1="214.45" x2="300.20" y2="214.45" stroke="#1a1a1a" stroke-width="1.4" />
<text x="296.60" y="216.75" font-size="6.6" font-weight="bold" text-anchor="end" fill="#1a1a1a" stroke="#1a1a1a" stroke-width="0.2" >5</text>
<text x="288.60" y="282.90" font-size="7.3" font-weight="bold" text-anchor="middle" fill="#1a1a1a" stroke="#1a1a1a" stroke-width="0.2" transform="rotate(-90 288.6 282.9)">CD4<tspan font-size="4.5" dy="-2.4">+</tspan><tspan dy="2.4"> lymphocyte count (x10</tspan><tspan font-size="4.5" dy="-2.4">9</tspan><tspan dy="2.4">/L)</tspan></text>
<line x1="306.60" y1="306.40" x2="306.60" y2="318.30" stroke="#1a1a1a" stroke-width="1.35" />
<line x1="304.80" y1="306.40" x2="308.40" y2="306.40" stroke="#1a1a1a" stroke-width="1.4" />
<line x1="306.60" y1="346.60" x2="306.60" y2="353.00" stroke="#1a1a1a" stroke-width="1.35" />
<line x1="304.80" y1="353.00" x2="308.40" y2="353.00" stroke="#1a1a1a" stroke-width="1.4" />
<rect x="304.10" y="318.30" width="5.00" height="28.30" fill="#fff" stroke="#1a1a1a" stroke-width="1.5"/>
<line x1="304.10" y1="336.50" x2="309.10" y2="336.50" stroke="#1a1a1a" stroke-width="1.4" />
<line x1="313.60" y1="235.00" x2="313.60" y2="326.30" stroke="#9a9a9a" stroke-width="1.35" />
<line x1="311.80" y1="235.00" x2="315.40" y2="235.00" stroke="#9a9a9a" stroke-width="1.4" />
<rect x="311.10" y="326.30" width="5.00" height="14.30" fill="#fff" stroke="#9a9a9a" stroke-width="1.5"/>
<line x1="311.10" y1="339.30" x2="316.10" y2="339.30" stroke="#9a9a9a" stroke-width="1.4" />
<line x1="310.00" y1="355.70" x2="310.00" y2="358.50" stroke="#1a1a1a" stroke-width="1.4" />
<text x="311.30" y="364.10" font-size="7.0" font-weight="bold" text-anchor="end" fill="#1a1a1a" stroke="#1a1a1a" stroke-width="0.2" transform="rotate(-45 311.30 364.10)">baseline</text>
<line x1="325.38" y1="248.80" x2="325.38" y2="324.00" stroke="#1a1a1a" stroke-width="1.35" />
<line x1="323.58" y1="248.80" x2="327.18" y2="248.80" stroke="#1a1a1a" stroke-width="1.4" />
<line x1="325.38" y1="342.00" x2="325.38" y2="351.60" stroke="#1a1a1a" stroke-width="1.35" />
<line x1="323.58" y1="351.60" x2="327.18" y2="351.60" stroke="#1a1a1a" stroke-width="1.4" />
<rect x="322.88" y="324.00" width="5.00" height="18.00" fill="#fff" stroke="#1a1a1a" stroke-width="1.5"/>
<line x1="322.88" y1="334.70" x2="327.88" y2="334.70" stroke="#1a1a1a" stroke-width="1.4" />
<line x1="332.38" y1="262.00" x2="332.38" y2="300.20" stroke="#9a9a9a" stroke-width="1.35" />
<line x1="330.58" y1="262.00" x2="334.18" y2="262.00" stroke="#9a9a9a" stroke-width="1.4" />
<line x1="332.38" y1="329.60" x2="332.38" y2="347.40" stroke="#9a9a9a" stroke-width="1.35" />
<line x1="330.58" y1="347.40" x2="334.18" y2="347.40" stroke="#9a9a9a" stroke-width="1.4" />
<rect x="329.88" y="300.20" width="5.00" height="29.40" fill="#fff" stroke="#9a9a9a" stroke-width="1.5"/>
<line x1="329.88" y1="318.60" x2="334.88" y2="318.60" stroke="#9a9a9a" stroke-width="1.4" />
<line x1="328.78" y1="355.70" x2="328.78" y2="358.50" stroke="#1a1a1a" stroke-width="1.4" />
<text x="330.08" y="364.10" font-size="7.0" font-weight="bold" text-anchor="end" fill="#1a1a1a" stroke="#1a1a1a" stroke-width="0.2" transform="rotate(-45 330.08 364.10)">day 7</text>
<line x1="344.16" y1="308.80" x2="344.16" y2="327.10" stroke="#1a1a1a" stroke-width="1.35" />
<line x1="342.36" y1="308.80" x2="345.96" y2="308.80" stroke="#1a1a1a" stroke-width="1.4" />
<line x1="344.16" y1="348.20" x2="344.16" y2="352.40" stroke="#1a1a1a" stroke-width="1.35" />
<line x1="342.36" y1="352.40" x2="345.96" y2="352.40" stroke="#1a1a1a" stroke-width="1.4" />
<rect x="341.66" y="327.10" width="5.00" height="21.10" fill="#fff" stroke="#1a1a1a" stroke-width="1.5"/>
<line x1="341.66" y1="337.20" x2="346.66" y2="337.20" stroke="#1a1a1a" stroke-width="1.4" />
<line x1="351.16" y1="299.00" x2="351.16" y2="323.70" stroke="#9a9a9a" stroke-width="1.35" />
<line x1="349.36" y1="299.00" x2="352.96" y2="299.00" stroke="#9a9a9a" stroke-width="1.4" />
<line x1="351.16" y1="336.40" x2="351.16" y2="339.30" stroke="#9a9a9a" stroke-width="1.35" />
<line x1="349.36" y1="339.30" x2="352.96" y2="339.30" stroke="#9a9a9a" stroke-width="1.4" />
<rect x="348.66" y="323.70" width="5.00" height="12.70" fill="#fff" stroke="#9a9a9a" stroke-width="1.5"/>
<line x1="348.66" y1="334.70" x2="353.66" y2="334.70" stroke="#9a9a9a" stroke-width="1.4" />
<line x1="347.56" y1="355.70" x2="347.56" y2="358.50" stroke="#1a1a1a" stroke-width="1.4" />
<text x="348.86" y="364.10" font-size="7.0" font-weight="bold" text-anchor="end" fill="#1a1a1a" stroke="#1a1a1a" stroke-width="0.2" transform="rotate(-45 348.86 364.10)">14</text>
<line x1="362.94" y1="293.50" x2="362.94" y2="333.50" stroke="#1a1a1a" stroke-width="1.35" />
<line x1="361.14" y1="293.50" x2="364.74" y2="293.50" stroke="#1a1a1a" stroke-width="1.4" />
<line x1="362.94" y1="348.30" x2="362.94" y2="353.30" stroke="#1a1a1a" stroke-width="1.35" />
<line x1="361.14" y1="353.30" x2="364.74" y2="353.30" stroke="#1a1a1a" stroke-width="1.4" />
<rect x="360.44" y="333.50" width="5.00" height="14.80" fill="#fff" stroke="#1a1a1a" stroke-width="1.5"/>
<line x1="360.44" y1="338.20" x2="365.44" y2="338.20" stroke="#1a1a1a" stroke-width="1.4" />
<line x1="369.94" y1="295.60" x2="369.94" y2="326.60" stroke="#9a9a9a" stroke-width="1.35" />
<line x1="368.14" y1="295.60" x2="371.74" y2="295.60" stroke="#9a9a9a" stroke-width="1.4" />
<line x1="369.94" y1="337.20" x2="369.94" y2="338.40" stroke="#9a9a9a" stroke-width="1.35" />
<line x1="368.14" y1="338.40" x2="371.74" y2="338.40" stroke="#9a9a9a" stroke-width="1.4" />
<rect x="367.44" y="326.60" width="5.00" height="10.60" fill="#fff" stroke="#9a9a9a" stroke-width="1.5"/>
<line x1="367.44" y1="335.80" x2="372.44" y2="335.80" stroke="#9a9a9a" stroke-width="1.4" />
<line x1="366.34" y1="355.70" x2="366.34" y2="358.50" stroke="#1a1a1a" stroke-width="1.4" />
<text x="367.64" y="364.10" font-size="7.0" font-weight="bold" text-anchor="end" fill="#1a1a1a" stroke="#1a1a1a" stroke-width="0.2" transform="rotate(-45 367.64 364.10)">21</text>
<line x1="381.72" y1="307.40" x2="381.72" y2="332.40" stroke="#1a1a1a" stroke-width="1.35" />
<line x1="379.92" y1="307.40" x2="383.52" y2="307.40" stroke="#1a1a1a" stroke-width="1.4" />
<line x1="381.72" y1="345.60" x2="381.72" y2="353.00" stroke="#1a1a1a" stroke-width="1.35" />
<line x1="379.92" y1="353.00" x2="383.52" y2="353.00" stroke="#1a1a1a" stroke-width="1.4" />
<rect x="379.22" y="332.40" width="5.00" height="13.20" fill="#fff" stroke="#1a1a1a" stroke-width="1.5"/>
<line x1="379.22" y1="337.20" x2="384.22" y2="337.20" stroke="#1a1a1a" stroke-width="1.4" />
<line x1="388.72" y1="298.70" x2="388.72" y2="323.50" stroke="#9a9a9a" stroke-width="1.35" />
<line x1="386.92" y1="298.70" x2="390.52" y2="298.70" stroke="#9a9a9a" stroke-width="1.4" />
<line x1="388.72" y1="339.60" x2="388.72" y2="344.00" stroke="#9a9a9a" stroke-width="1.35" />
<line x1="386.92" y1="344.00" x2="390.52" y2="344.00" stroke="#9a9a9a" stroke-width="1.4" />
<rect x="386.22" y="323.50" width="5.00" height="16.10" fill="#fff" stroke="#9a9a9a" stroke-width="1.5"/>
<line x1="386.22" y1="333.70" x2="391.22" y2="333.70" stroke="#9a9a9a" stroke-width="1.4" />
<line x1="385.12" y1="355.70" x2="385.12" y2="358.50" stroke="#1a1a1a" stroke-width="1.4" />
<text x="386.42" y="364.10" font-size="7.0" font-weight="bold" text-anchor="end" fill="#1a1a1a" stroke="#1a1a1a" stroke-width="0.2" transform="rotate(-45 386.42 364.10)">28</text>
<line x1="400.50" y1="329.70" x2="400.50" y2="332.70" stroke="#1a1a1a" stroke-width="1.35" />
<line x1="398.70" y1="329.70" x2="402.30" y2="329.70" stroke="#1a1a1a" stroke-width="1.4" />
<line x1="400.50" y1="344.00" x2="400.50" y2="352.20" stroke="#1a1a1a" stroke-width="1.35" />
<line x1="398.70" y1="352.20" x2="402.30" y2="352.20" stroke="#1a1a1a" stroke-width="1.4" />
<rect x="398.00" y="332.70" width="5.00" height="11.30" fill="#fff" stroke="#1a1a1a" stroke-width="1.5"/>
<line x1="398.00" y1="336.60" x2="403.00" y2="336.60" stroke="#1a1a1a" stroke-width="1.4" />
<line x1="407.50" y1="311.50" x2="407.50" y2="323.90" stroke="#9a9a9a" stroke-width="1.35" />
<line x1="405.70" y1="311.50" x2="409.30" y2="311.50" stroke="#9a9a9a" stroke-width="1.4" />
<rect x="405.00" y="323.90" width="5.00" height="15.70" fill="#fff" stroke="#9a9a9a" stroke-width="1.5"/>
<line x1="405.00" y1="336.30" x2="410.00" y2="336.30" stroke="#9a9a9a" stroke-width="1.4" />
<line x1="403.90" y1="355.70" x2="403.90" y2="358.50" stroke="#1a1a1a" stroke-width="1.4" />
<text x="405.20" y="364.10" font-size="7.0" font-weight="bold" text-anchor="end" fill="#1a1a1a" stroke="#1a1a1a" stroke-width="0.2" transform="rotate(-45 405.20 364.10)">60</text>
<line x1="419.28" y1="327.30" x2="419.28" y2="334.30" stroke="#1a1a1a" stroke-width="1.35" />
<line x1="417.48" y1="327.30" x2="421.08" y2="327.30" stroke="#1a1a1a" stroke-width="1.4" />
<rect x="416.78" y="334.30" width="5.00" height="11.30" fill="#fff" stroke="#1a1a1a" stroke-width="1.5"/>
<line x1="416.78" y1="336.50" x2="421.78" y2="336.50" stroke="#1a1a1a" stroke-width="1.4" />
<line x1="426.28" y1="307.60" x2="426.28" y2="327.40" stroke="#9a9a9a" stroke-width="1.35" />
<line x1="424.48" y1="307.60" x2="428.08" y2="307.60" stroke="#9a9a9a" stroke-width="1.4" />
<line x1="426.28" y1="345.20" x2="426.28" y2="347.70" stroke="#9a9a9a" stroke-width="1.35" />
<line x1="424.48" y1="347.70" x2="428.08" y2="347.70" stroke="#9a9a9a" stroke-width="1.4" />
<rect x="423.78" y="327.40" width="5.00" height="17.80" fill="#fff" stroke="#9a9a9a" stroke-width="1.5"/>
<line x1="423.78" y1="342.40" x2="428.78" y2="342.40" stroke="#9a9a9a" stroke-width="1.4" />
<line x1="422.68" y1="355.70" x2="422.68" y2="358.50" stroke="#1a1a1a" stroke-width="1.4" />
<text x="423.98" y="364.10" font-size="7.0" font-weight="bold" text-anchor="end" fill="#1a1a1a" stroke="#1a1a1a" stroke-width="0.2" transform="rotate(-45 423.98 364.10)">90</text>
<line x1="438.06" y1="328.70" x2="438.06" y2="333.60" stroke="#1a1a1a" stroke-width="1.35" />
<line x1="436.26" y1="328.70" x2="439.86" y2="328.70" stroke="#1a1a1a" stroke-width="1.4" />
<line x1="438.06" y1="342.80" x2="438.06" y2="347.60" stroke="#1a1a1a" stroke-width="1.35" />
<line x1="436.26" y1="347.60" x2="439.86" y2="347.60" stroke="#1a1a1a" stroke-width="1.4" />
<rect x="435.56" y="333.60" width="5.00" height="9.20" fill="#fff" stroke="#1a1a1a" stroke-width="1.5"/>
<line x1="435.56" y1="337.80" x2="440.56" y2="337.80" stroke="#1a1a1a" stroke-width="1.4" />
<line x1="445.06" y1="285.80" x2="445.06" y2="313.00" stroke="#9a9a9a" stroke-width="1.35" />
<line x1="443.26" y1="285.80" x2="446.86" y2="285.80" stroke="#9a9a9a" stroke-width="1.4" />
<line x1="445.06" y1="342.50" x2="445.06" y2="345.40" stroke="#9a9a9a" stroke-width="1.35" />
<line x1="443.26" y1="345.40" x2="446.86" y2="345.40" stroke="#9a9a9a" stroke-width="1.4" />
<rect x="442.56" y="313.00" width="5.00" height="29.50" fill="#fff" stroke="#9a9a9a" stroke-width="1.5"/>
<line x1="442.56" y1="336.10" x2="447.56" y2="336.10" stroke="#9a9a9a" stroke-width="1.4" />
<line x1="441.46" y1="355.70" x2="441.46" y2="358.50" stroke="#1a1a1a" stroke-width="1.4" />
<text x="442.76" y="364.10" font-size="7.0" font-weight="bold" text-anchor="end" fill="#1a1a1a" stroke="#1a1a1a" stroke-width="0.2" transform="rotate(-45 442.76 364.10)">120</text>
<line x1="456.84" y1="323.80" x2="456.84" y2="330.20" stroke="#1a1a1a" stroke-width="1.35" />
<line x1="455.04" y1="323.80" x2="458.64" y2="323.80" stroke="#1a1a1a" stroke-width="1.4" />
<line x1="456.84" y1="347.20" x2="456.84" y2="350.80" stroke="#1a1a1a" stroke-width="1.35" />
<line x1="455.04" y1="350.80" x2="458.64" y2="350.80" stroke="#1a1a1a" stroke-width="1.4" />
<rect x="454.34" y="330.20" width="5.00" height="17.00" fill="#fff" stroke="#1a1a1a" stroke-width="1.5"/>
<line x1="454.34" y1="339.00" x2="459.34" y2="339.00" stroke="#1a1a1a" stroke-width="1.4" />
<line x1="463.84" y1="322.00" x2="463.84" y2="325.60" stroke="#9a9a9a" stroke-width="1.35" />
<line x1="462.04" y1="322.00" x2="465.64" y2="322.00" stroke="#9a9a9a" stroke-width="1.4" />
<rect x="461.34" y="325.60" width="5.00" height="12.10" fill="#fff" stroke="#9a9a9a" stroke-width="1.5"/>
<line x1="461.34" y1="330.80" x2="466.34" y2="330.80" stroke="#9a9a9a" stroke-width="1.4" />
<line x1="460.24" y1="355.70" x2="460.24" y2="358.50" stroke="#1a1a1a" stroke-width="1.4" />
<text x="461.54" y="364.10" font-size="7.0" font-weight="bold" text-anchor="end" fill="#1a1a1a" stroke="#1a1a1a" stroke-width="0.2" transform="rotate(-45 461.54 364.10)">150</text>
<line x1="475.62" y1="330.00" x2="475.62" y2="338.60" stroke="#1a1a1a" stroke-width="1.35" />
<line x1="473.82" y1="330.00" x2="477.42" y2="330.00" stroke="#1a1a1a" stroke-width="1.4" />
<line x1="475.62" y1="348.60" x2="475.62" y2="352.10" stroke="#1a1a1a" stroke-width="1.35" />
<line x1="473.82" y1="352.10" x2="477.42" y2="352.10" stroke="#1a1a1a" stroke-width="1.4" />
<rect x="473.12" y="338.60" width="5.00" height="10.00" fill="#fff" stroke="#1a1a1a" stroke-width="1.5"/>
<line x1="473.12" y1="343.60" x2="478.12" y2="343.60" stroke="#1a1a1a" stroke-width="1.4" />
<rect x="480.12" y="323.80" width="5.00" height="20.10" fill="#fff" stroke="#9a9a9a" stroke-width="1.5"/>
<line x1="480.12" y1="340.60" x2="485.12" y2="340.60" stroke="#9a9a9a" stroke-width="1.4" />
<line x1="479.02" y1="355.70" x2="479.02" y2="358.50" stroke="#1a1a1a" stroke-width="1.4" />
<text x="480.32" y="364.10" font-size="7.0" font-weight="bold" text-anchor="end" fill="#1a1a1a" stroke="#1a1a1a" stroke-width="0.2" transform="rotate(-45 480.32 364.10)">180</text>
<line x1="494.40" y1="327.60" x2="494.40" y2="332.40" stroke="#1a1a1a" stroke-width="1.35" />
<line x1="492.60" y1="327.60" x2="496.20" y2="327.60" stroke="#1a1a1a" stroke-width="1.4" />
<line x1="494.40" y1="342.40" x2="494.40" y2="345.00" stroke="#1a1a1a" stroke-width="1.35" />
<line x1="492.60" y1="345.00" x2="496.20" y2="345.00" stroke="#1a1a1a" stroke-width="1.4" />
<rect x="491.90" y="332.40" width="5.00" height="10.00" fill="#fff" stroke="#1a1a1a" stroke-width="1.5"/>
<line x1="491.90" y1="340.70" x2="496.90" y2="340.70" stroke="#1a1a1a" stroke-width="1.4" />
<line x1="501.40" y1="310.70" x2="501.40" y2="349.60" stroke="#9a9a9a" stroke-width="1.3" />
<line x1="499.80" y1="310.70" x2="503.00" y2="310.70" stroke="#9a9a9a" stroke-width="1.3" />
<line x1="499.80" y1="349.60" x2="503.00" y2="349.60" stroke="#9a9a9a" stroke-width="1.3" />
<line x1="499.80" y1="330.00" x2="503.00" y2="330.00" stroke="#9a9a9a" stroke-width="1.3" />
<line x1="497.80" y1="355.70" x2="497.80" y2="358.50" stroke="#1a1a1a" stroke-width="1.4" />
<text x="499.10" y="364.10" font-size="7.0" font-weight="bold" text-anchor="end" fill="#1a1a1a" stroke="#1a1a1a" stroke-width="0.2" transform="rotate(-45 499.10 364.10)">210</text>
<rect x="467.9" y="230.6" width="6.2" height="2.4" fill="#fff" stroke="#1a1a1a" stroke-width="1.4"/>
<rect x="467.9" y="240.2" width="6.2" height="2.4" fill="#fff" stroke="#9a9a9a" stroke-width="1.4"/>
<text x="477.00" y="233.90" font-size="4.42" font-weight="normal" text-anchor="start" fill="#333" stroke="#333" stroke-width="0.03" >Responders</text>
<text x="477.00" y="243.30" font-size="4.46" font-weight="normal" text-anchor="start" fill="#333" stroke="#333" stroke-width="0.03" >Non-responders</text>
</svg>
</body></html>
